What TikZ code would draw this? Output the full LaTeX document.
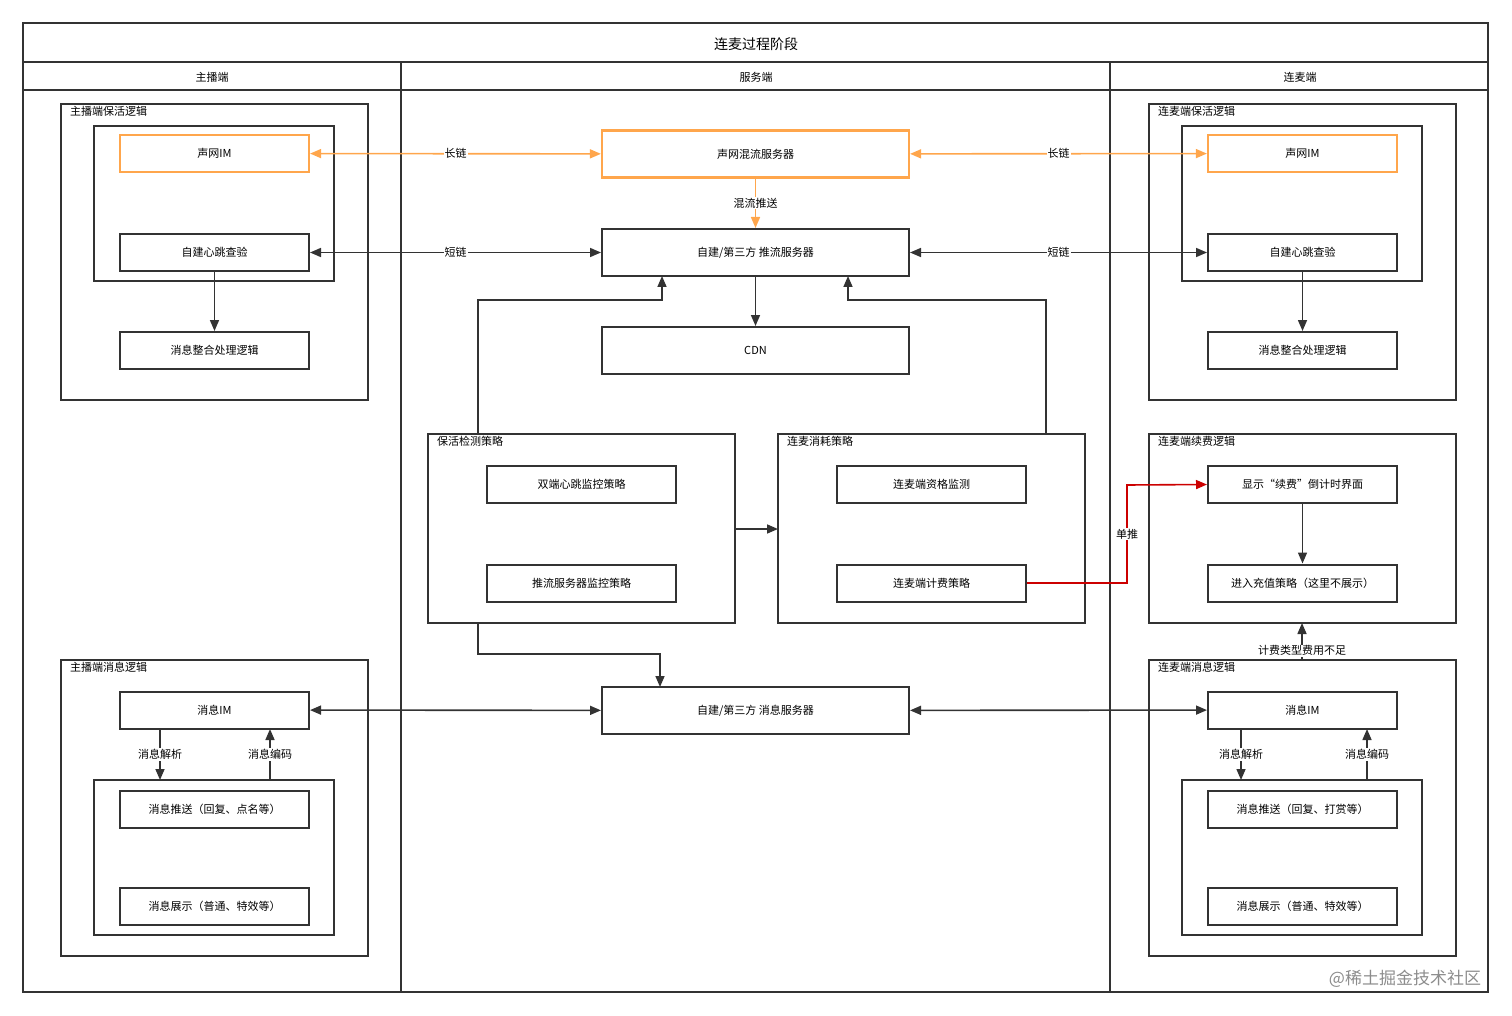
\documentclass[tikz,border=0pt]{standalone}
\usepackage{fontspec}
\setmainfont{Noto Sans CJK SC}
\usetikzlibrary{arrows.meta}

\tikzset{
  box/.style={draw=black!80, line width=2pt, minimum width=189pt, minimum height=37pt, inner sep=0pt, font=\fontsize{11}{12}\selectfont},
  wide/.style={box, minimum width=307pt, minimum height=47pt},
  orangebox/.style={draw=orange!70, line width=2.2pt},
  group/.style={draw=black!80, line width=2pt},
  glabel/.style={anchor=north west, inner sep=1pt, font=\fontsize{11}{12}\selectfont},
  lbl/.style={fill=white, inner sep=1pt, font=\fontsize{11}{12}\selectfont},
  link/.style={line width=1.6pt, draw=black!80, >={Triangle[length=11pt,width=9pt]}},
  olink/.style={link, draw=orange!70, >={Triangle[length=11pt,width=9pt,fill=orange!70]}},
  rlink/.style={link, draw=red!80!black, >={Triangle[length=11pt,width=9pt,fill=red!80!black]}}
}

\begin{document}
\begin{tikzpicture}[x=1pt,y=-1pt]
    \useasboundingbox (0,0) rectangle (1512,1016);

    % Frame and columns
    \draw[group] (23,23) rectangle (1488,992);
    \draw[group] (23,62) -- (1488,62);
    \draw[group] (23,90) -- (1488,90);
    \draw[group] (401,62) -- (401,992);
    \draw[group] (1110,62) -- (1110,992);
    \node[font=\fontsize{14}{15}\selectfont] at (756,44) {连麦过程阶段};
    \node[glabel, anchor=center] at (212,77) {主播端};
    \node[glabel, anchor=center] at (756,77) {服务端};
    \node[glabel, anchor=center] at (1300,77) {连麦端};

    % Anchor side: keep-alive
    \draw[group] (61,104) rectangle (368,400);
    \node[glabel] at (69,105) {主播端保活逻辑};
    \draw[group] (94,126) rectangle (334,281);
    \node[box, orangebox] (aim) at (214.5,153.5) {声网IM};
    \node[box] (ahb) at (214.5,252.5) {自建心跳查验};
    \node[box] (amsg) at (214.5,350.5) {消息整合处理逻辑};

    % Anchor side: messages
    \draw[group] (61,660) rectangle (368,956);
    \node[glabel] at (69,661) {主播端消息逻辑};
    \node[box] (aim2) at (214.5,710) {消息IM};
    \draw[group] (94,780) rectangle (334,935);
    \coordinate (ain) at (160,780);
    \coordinate (aout) at (270,780);
    \node[box] (apush) at (214.5,809) {消息推送（回复、点名等）};
    \node[box] (ashow) at (214.5,906.5) {消息展示（普通、特效等）};

    % Server side
    \node[wide, orangebox] (mix) at (755.5,154) {声网混流服务器};
    \node[wide] (push) at (755.5,252.5) {自建/第三方 推流服务器};
    \node[wide] (cdn) at (755.5,350.5) {CDN};
    \node[wide] (msrv) at (755.5,710.5) {自建/第三方 消息服务器};

    \draw[group] (428,434) rectangle (735,623);
    \node[glabel] at (436,435) {保活检测策略};
    \node[box] (dual) at (581.5,484.5) {双端心跳监控策略};
    \node[box] (pmon) at (581.5,583) {推流服务器监控策略};

    \draw[group] (778,434) rectangle (1085,623);
    \node[glabel] at (786,435) {连麦消耗策略};
    \node[box] (qual) at (931.5,484.5) {连麦端资格监测};
    \node[box] (fee) at (931.5,583) {连麦端计费策略};

    % Co-host side: keep-alive
    \draw[group] (1149,104) rectangle (1456,400);
    \node[glabel] at (1157,105) {连麦端保活逻辑};
    \draw[group] (1182,126) rectangle (1422,281);
    \node[box, orangebox] (cim) at (1302.5,153.5) {声网IM};
    \node[box] (chb) at (1302.5,252.5) {自建心跳查验};
    \node[box] (cmsg) at (1302.5,350.5) {消息整合处理逻辑};

    % Co-host side: renewal
    \draw[group] (1149,434) rectangle (1456,623);
    \node[glabel] at (1157,435) {连麦端续费逻辑};
    \node[box] (cnt) at (1302.5,484.5) {显示“续费”倒计时界面};
    \node[box] (pay) at (1302.5,583) {进入充值策略（这里不展示）};

    % Co-host side: messages
    \draw[group] (1149,660) rectangle (1456,956);
    \node[glabel] at (1157,661) {连麦端消息逻辑};
    \node[box] (cim2) at (1302.5,710) {消息IM};
    \draw[group] (1182,780) rectangle (1422,935);
    \coordinate (cin) at (1241,780);
    \coordinate (cout) at (1367,780);
    \node[box] (cpush) at (1302.5,809) {消息推送（回复、打赏等）};
    \node[box] (cshow) at (1302.5,906.5) {消息展示（普通、特效等）};

    % Long links (orange)
    \draw[olink,<->] (aim) -- node[lbl, pos=0.5] {长链} (mix);
    \draw[olink,<->] (mix) -- node[lbl, pos=0.5] {长链} (cim);
    \draw[olink,->] (mix) -- node[lbl] {混流推送} (push);

    % Short links
    \draw[link,<->] (ahb) -- node[lbl, pos=0.5] {短链} (push);
    \draw[link,<->] (push) -- node[lbl, pos=0.5] {短链} (chb);
    \draw[link,->] (ahb) -- (amsg);
    \draw[link,->] (chb) -- (cmsg);
    \draw[link,->] (push) -- (cdn);

    % Strategies
    \draw[link,->] (478,434) |- (662,300) -- (662,276);
    \draw[link,->] (1046,434) |- (848,300) -- (848,276);
    \draw[link,->] (735,529) -- (778,529);
    \draw[link,->] (478,623) |- (660,654) -- (660,687);

    % Message links
    \draw[link,<->] (aim2) -- (msrv);
    \draw[link,<->] (msrv) -- (cim2);
    \draw[link,->] (160,729) -- node[lbl] {消息解析} (ain);
    \draw[link,->] (aout) -- node[lbl] {消息编码} (270,729);
    \draw[link,->] (1241,729) -- node[lbl] {消息解析} (cin);
    \draw[link,->] (cout) -- node[lbl] {消息编码} (1367,729);

    % Renewal
    \draw[rlink,->] (fee.east) -| node[lbl, pos=0.75] {单推} (1127,485) -- (cnt.west);
    \draw[link,->] (cnt) -- (pay);
    \draw[link,->] (1302,660) -- node[lbl, pos=0.25] {计费类型费用不足} (1302,623);

    % Watermark
    \node[text=black!45, font=\fontsize{17}{18}\selectfont] at (1405,979) {@稀土掘金技术社区};
\end{tikzpicture}
\end{document}
